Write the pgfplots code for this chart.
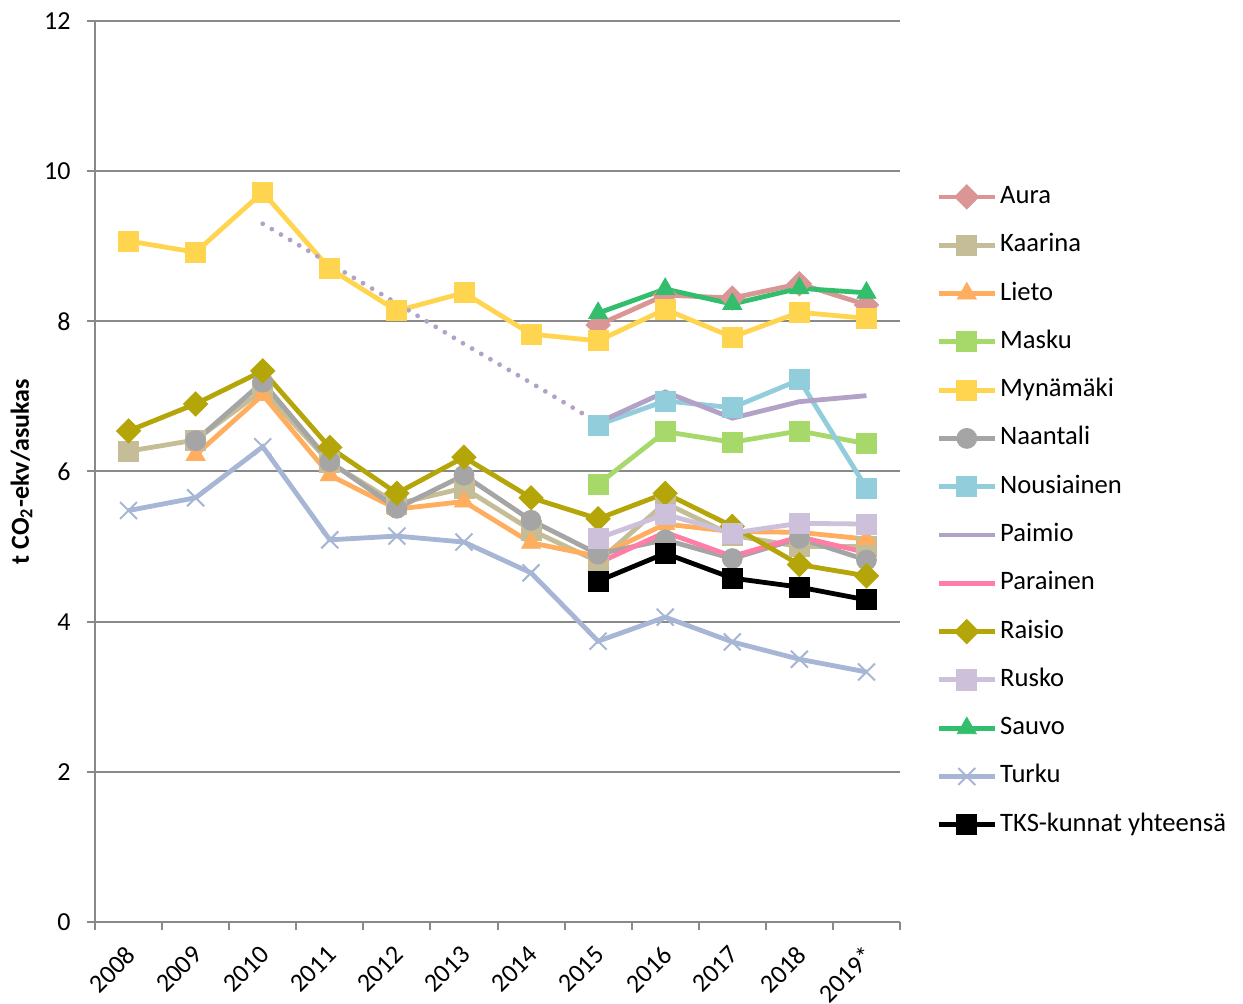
\documentclass[border=0pt]{standalone}
\usepackage{fontspec}
\setmainfont{Carlito}
\usepackage{pgfplots}
\pgfplotsset{compat=1.18}

\definecolor{cgrid}{HTML}{898989}
\definecolor{cAura}{HTML}{D99694}
\definecolor{cKaarina}{HTML}{C4BD97}
\definecolor{cLieto}{HTML}{FFAD5F}
\definecolor{cMasku}{HTML}{A6D86A}
\definecolor{cMyna}{HTML}{FFD54F}
\definecolor{cNaantali}{HTML}{A5A5A5}
\definecolor{cNousi}{HTML}{92CDDC}
\definecolor{cPaimio}{HTML}{B3A2C7}
\definecolor{cParainen}{HTML}{FF7DA6}
\definecolor{cRaisio}{HTML}{B4A508}
\definecolor{cRusko}{HTML}{CCC0DA}
\definecolor{cSauvo}{HTML}{33BE6E}
\definecolor{cTurku}{HTML}{A6B6D4}

\pgfplotsset{
  ser/.style={line width=2.4bp, color=#1, mark options={solid, fill=#1, draw=#1, line width=0.4bp}},
}

\begin{document}
\fontsize{13bp}{15bp}\selectfont
\begin{tikzpicture}
\useasboundingbox (-47.5bp,-41bp) rectangle (574bp,461bp);
\begin{axis}[
  at={(0,0)}, anchor=south west,
  scale only axis, width=402.5bp, height=450.5bp,
  xmin=-0.5, xmax=11.5, ymin=0, ymax=12,
  axis x line*=bottom, axis y line*=left,
  axis line style={draw=cgrid, line width=1bp, -},
  tick align=outside, tick pos=left,
  major tick length=4bp,
  tick style={draw=cgrid, line width=1bp},
  xtick={-0.5,0.5,...,11.5}, xticklabels={},
  extra x ticks={0,...,11},
  extra x tick labels={2008,2009,2010,2011,2012,2013,2014,2015,2016,2017,2018,2019*},
  extra x tick style={major tick length=0pt, tick style={draw=none}, grid=none,
    xticklabel style={rotate=45, anchor=north east, inner sep=0pt, xshift=-9.2bp, yshift=-6.4bp}},
  ytick={0,2,...,12},
  ymajorgrids, grid style={draw=cgrid, line width=1bp},
  yticklabel style={inner sep=0pt, xshift=-8bp},
  /pgf/number format/assume math mode=true,
  ylabel={\bfseries t CO\textsubscript{2}-ekv/asukas},
  ylabel style={at={(rel axis cs:0,0.5)}, anchor=center, yshift=36.75bp},
  legend style={at={(1,1)}, anchor=north west, xshift=18bp, yshift=-82bp,
    draw=none, fill=none, inner sep=0pt, row sep=12.65bp,
    font=\fontsize{13.3bp}{15bp}\selectfont,
    nodes={inner sep=0pt, text height=9bp, text depth=2.5bp},
    /tikz/every odd column/.style={column sep=1.5bp}},
  legend cell align=left,
  legend image code/.code={\draw[mark repeat=2, mark phase=2, #1] plot coordinates {(0bp,0bp)(14bp,0bp)(28bp,0bp)};},
]
\addplot[ser=cAura, mark=square*, mark size=3.3bp, mark options={rotate=45}] coordinates {(7,7.95)(8,8.35)(9,8.31)(10,8.50)(11,8.22)};
\addlegendentry{Aura}
\addplot[ser=cKaarina, mark=square*, mark size=5bp] coordinates {(0,6.27)(1,6.42)(2,7.08)(3,6.12)(4,5.57)(5,5.78)(6,5.22)(7,4.80)(8,5.58)(9,5.15)(10,5.00)(11,5.00)};
\addlegendentry{Kaarina}
\addplot[ser=cLieto, mark=triangle*, mark size=5.5bp] coordinates {(1,6.22)(2,7.02)(3,5.95)(4,5.50)(5,5.60)(6,5.05)(7,4.87)(8,5.30)(9,5.20)(10,5.19)(11,5.10)};
\addlegendentry{Lieto}
\addplot[ser=cMasku, mark=square*, mark size=5bp] coordinates {(7,5.83)(8,6.53)(9,6.39)(10,6.54)(11,6.37)};
\addlegendentry{Masku}
\addplot[ser=cMyna, mark=square*, mark size=5bp] coordinates {(0,9.07)(1,8.92)(2,9.72)(3,8.70)(4,8.14)(5,8.38)(6,7.83)(7,7.74)(8,8.16)(9,7.79)(10,8.12)(11,8.04)};
\addlegendentry{Mynämäki}
\addplot[ser=cNaantali, mark=*, mark size=5bp] coordinates {(1,6.41)(2,7.19)(3,6.13)(4,5.51)(5,5.95)(6,5.35)(7,4.90)(8,5.09)(9,4.84)(10,5.11)(11,4.82)};
\addlegendentry{Naantali}
\addplot[ser=cNousi, mark=square*, mark size=5bp] coordinates {(7,6.62)(8,6.94)(9,6.85)(10,7.22)(11,5.78)};
\addlegendentry{Nousiainen}
\addplot[ser=cPaimio, line cap=round, dash pattern=on 0pt off 5.3bp, forget plot] coordinates {(2,9.30)(3,8.77)(4,8.24)(5,7.70)(6,7.18)(7,6.65)};
\addplot[ser=cPaimio] coordinates {(7,6.65)(8,7.06)(9,6.71)(10,6.93)(11,7.01)};
\addlegendentry{Paimio}
\addplot[ser=cParainen] coordinates {(7,4.78)(8,5.19)(9,4.87)(10,5.13)(11,4.92)};
\addlegendentry{Parainen}
\addplot[ser=cRaisio, mark=square*, mark size=3.3bp, mark options={rotate=45}] coordinates {(0,6.54)(1,6.90)(2,7.34)(3,6.32)(4,5.71)(5,6.19)(6,5.65)(7,5.37)(8,5.71)(9,5.27)(10,4.76)(11,4.61)};
\addlegendentry{Raisio}
\addplot[ser=cRusko, mark=square*, mark size=5bp] coordinates {(7,5.11)(8,5.43)(9,5.18)(10,5.31)(11,5.30)};
\addlegendentry{Rusko}
\addplot[ser=cSauvo, mark=triangle*, mark size=5.5bp] coordinates {(7,8.11)(8,8.43)(9,8.23)(10,8.44)(11,8.38)};
\addlegendentry{Sauvo}
\addplot[ser=cTurku, mark=x, mark size=6bp, mark options={line width=1bp}] coordinates {(0,5.48)(1,5.65)(2,6.33)(3,5.09)(4,5.14)(5,5.06)(6,4.65)(7,3.74)(8,4.06)(9,3.73)(10,3.50)(11,3.33)};
\addlegendentry{Turku}
\addplot[ser=black, mark=square*, mark size=5bp] coordinates {(7,4.54)(8,4.91)(9,4.58)(10,4.46)(11,4.29)};
\addlegendentry{TKS-kunnat yhteensä}
\end{axis}
\end{tikzpicture}
\end{document}
